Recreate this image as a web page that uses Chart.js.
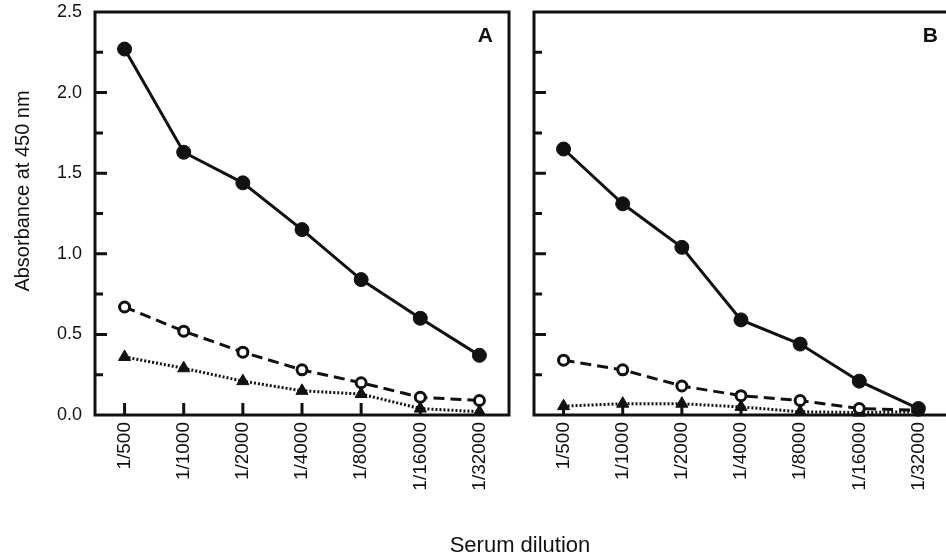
<!DOCTYPE html>
<html>
<head>
<meta charset="utf-8">
<script src="https://cdn.jsdelivr.net/npm/chart.js@4.4.1/dist/chart.umd.min.js"></script>
<style>
  html, body { margin: 0; padding: 0; background: #fff; overflow: hidden; }
  #wrap { position: relative; width: 946px; height: 560px; overflow: hidden; background: #fff; }
  #chartA { position: absolute; left: 0; top: 0; }
  #chartB { position: absolute; left: 520px; top: 0; }
</style>
</head>
<body>
<div id="wrap">
  <canvas id="chartA" width="946" height="560"></canvas>
  <canvas id="chartB" width="436" height="560"></canvas>
</div>
<script>
// Serum dilutions on the x axis
const dilutions = ['1/500', '1/1000', '1/2000', '1/4000', '1/8000', '1/16000', '1/32000'];

// Absorbance tick labels (major ticks); minor ticks fall halfway between
const absorbanceTicks = [0.0, 0.5, 1.0, 1.5, 2.0, 2.5];

// Panel A
const aFilled   = [2.27, 1.63, 1.44, 1.15, 0.84, 0.60, 0.37];
const aOpen     = [0.67, 0.52, 0.39, 0.28, 0.20, 0.11, 0.09];
const aTriangle = [0.36, 0.29, 0.21, 0.15, 0.13, 0.04, 0.02];

// Panel B
const bFilled   = [1.65, 1.31, 1.04, 0.59, 0.44, 0.21, 0.04];
const bOpen     = [0.34, 0.28, 0.18, 0.12, 0.09, 0.04, 0.03];
const bTriangle = [0.055, 0.07, 0.07, 0.05, 0.02, 0.015, 0.02];

const INK = '#111';
const FONT = '"Liberation Sans", Arial, Helvetica, sans-serif';

function makeDatasets(filled, open, tri) {
  return [
    { data: filled, borderColor: INK, backgroundColor: INK, borderWidth: 3,
      pointStyle: 'circle', pointRadius: 7, pointBorderWidth: 1, clip: false },
    { data: open, borderColor: INK, backgroundColor: '#fff', borderWidth: 3, borderDash: [11, 6],
      pointStyle: 'circle', pointRadius: 5, pointBorderWidth: 3, clip: false },
    { data: tri, borderColor: INK, backgroundColor: INK, borderWidth: 3, borderDash: [2, 2],
      pointStyle: 'triangle', pointRadius: 7, pointBorderWidth: 1, clip: false }
  ];
}

// Box around the plot area, inward tick marks and the panel letter
const framePlugin = {
  id: 'frame',
  beforeDatasetsDraw(chart, args, opts) {
    const { ctx, chartArea: a, scales: { x, y } } = chart;
    ctx.save();
    ctx.strokeStyle = INK;
    ctx.lineWidth = 3;
    ctx.beginPath();
    for (let k = 1; k < 10; k++) {
      const v = k * 0.25;
      const py = y.getPixelForValue(v);
      const len = (k % 2 === 0) ? 12 : 8;
      ctx.moveTo(a.left, py);
      ctx.lineTo(a.left + len, py);
    }
    x.ticks.forEach((t, i) => {
      const px = x.getPixelForTick(i);
      ctx.moveTo(px, a.bottom);
      ctx.lineTo(px, a.bottom - 12);
    });
    ctx.stroke();
    ctx.strokeRect(a.left, a.top, a.right - a.left, a.bottom - a.top);
    ctx.fillStyle = INK;
    ctx.font = 'bold 21px ' + FONT;
    ctx.textAlign = 'right';
    ctx.textBaseline = 'alphabetic';
    ctx.fillText(opts.letter, a.right - opts.inset, a.top + 30);
    ctx.restore();
  }
};

// Shared axis titles for both panels
const titlesPlugin = {
  id: 'titles',
  afterDraw(chart) {
    const { ctx } = chart;
    ctx.save();
    ctx.fillStyle = INK;
    ctx.font = '22px ' + FONT;
    ctx.textAlign = 'center';
    ctx.textBaseline = 'alphabetic';
    ctx.fillText('Serum dilution', 520, 552);
    ctx.translate(23, 191);
    ctx.rotate(-Math.PI / 2);
    ctx.font = '20px ' + FONT;
    ctx.textBaseline = 'middle';
    ctx.fillText('Absorbance at 450 nm', 0, 0);
    ctx.restore();
  }
};

function xScale() {
  return {
    type: 'category',
    offset: true,
    grid: { display: false, drawTicks: false },
    border: { display: false },
    ticks: {
      color: INK, font: { family: FONT, size: 19 },
      minRotation: 90, maxRotation: 90, autoSkip: false, padding: 7
    },
    afterFit(s) { s.height = 145; s.paddingLeft = 0; s.paddingRight = 0; }
  };
}

const common = {
  responsive: false,
  animation: false,
  events: [],
  plugins: { legend: { display: false }, tooltip: { enabled: false } },
  elements: { line: { tension: 0 } }
};

new Chart(document.getElementById('chartA'), {
  type: 'line',
  data: { labels: dilutions, datasets: makeDatasets(aFilled, aOpen, aTriangle) },
  options: Object.assign({}, common, {
    layout: { padding: { top: 12, right: 437, bottom: 0, left: 0 } },
    plugins: Object.assign({}, common.plugins, { frame: { letter: 'A', inset: 16 } }),
    scales: {
      x: xScale(),
      y: {
        type: 'linear', min: 0, max: 2.5,
        grid: { display: false, drawTicks: false },
        border: { display: false },
        afterBuildTicks(s) { s.ticks = absorbanceTicks.map(v => ({ value: v })); },
        ticks: {
          color: INK, font: { family: FONT, size: 18 }, padding: 13,
          callback: v => Number(v).toFixed(1)
        },
        afterFit(s) { s.width = 95; s.paddingTop = 0; s.paddingBottom = 0; }
      }
    }
  }),
  plugins: [framePlugin, titlesPlugin]
});

new Chart(document.getElementById('chartB'), {
  type: 'line',
  data: { labels: dilutions, datasets: makeDatasets(bFilled, bOpen, bTriangle) },
  options: Object.assign({}, common, {
    layout: { padding: { top: 12, right: 3, bottom: 0, left: 14 } },
    plugins: Object.assign({}, common.plugins, { frame: { letter: 'B', inset: 10 } }),
    scales: {
      x: xScale(),
      y: { type: 'linear', min: 0, max: 2.5, display: false }
    }
  }),
  plugins: [framePlugin]
});
</script>
</body>
</html>
